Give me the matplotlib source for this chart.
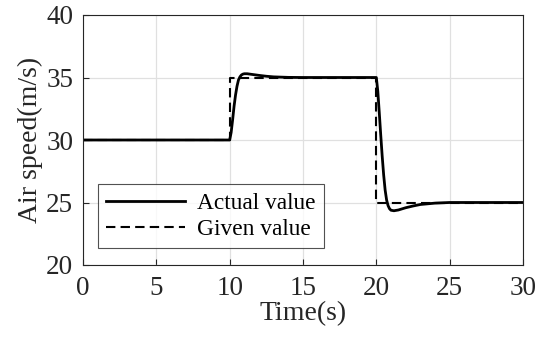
import matplotlib.pyplot as plt

# given (reference) air speed, step input
t_given = [0, 10, 10, 20, 20, 30]
v_given = [30, 30, 35, 35, 25, 25]

# actual response
t_act = [0, 10.0, 10.1, 10.2, 10.3, 10.4, 10.5, 10.6, 10.7, 10.8, 10.9, 11.0, 11.2,
         11.5, 12.0, 12.5, 13.0, 14.0, 15.0, 20.0, 20.1, 20.2, 20.3, 20.4, 20.5,
         20.6, 20.7, 20.8, 20.9, 21.0, 21.2, 21.5, 22.0, 22.5, 23.0, 24.0, 25.0, 30.0]
v_act = [30, 30.0, 30.6, 31.6, 32.7, 33.6, 34.3, 34.8, 35.05, 35.2, 35.27, 35.3, 35.3,
         35.25, 35.17, 35.1, 35.05, 35.01, 35.0, 35.0, 33.9, 32.2, 30.4, 28.7, 27.2,
         26.0, 25.2, 24.75, 24.5, 24.38, 24.34, 24.4, 24.58, 24.72, 24.84, 24.95, 25.0, 25.0]

plt.rcParams['font.family'] = ['Liberation Serif', 'DejaVu Serif']

fig = plt.figure(figsize=(5.51, 3.43), dpi=100)
ax = fig.add_axes([83 / 551, 1 - 265 / 343, 440 / 551, 250 / 343])

ax.plot(t_act, v_act, color='black', lw=2.0, label='Actual value')
ax.plot(t_given, v_given, color='black', lw=1.5, ls=(0, (4.5, 2.5)), label='Given value')

ax.set_xlim(0, 30)
ax.set_ylim(20, 40)
ax.set_xticks([0, 5, 10, 15, 20, 25, 30])
ax.set_yticks([20, 25, 30, 35, 40])
ax.grid(True, color='#e0e0e0', lw=0.9)
ax.set_axisbelow(True)
ax.tick_params(direction='in', labelsize=19.5, length=4, width=0.8, top=False, right=False,
               colors='#262626')
ax.tick_params(axis='y', pad=7)
ax.tick_params(axis='x', pad=8)
for s in ax.spines.values():
    s.set_color('#262626')
    s.set_linewidth(0.8)

ax.set_xlabel('Time(s)', fontsize=20, color='#262626', labelpad=0)
ax.set_ylabel('Air speed(m/s)', fontsize=20, color='#262626', labelpad=2)

leg = ax.legend(loc='lower left', bbox_to_anchor=(0.034, 0.068), fontsize=16.8,
                frameon=True, fancybox=False, handlelength=3.4, handletextpad=0.5,
                borderpad=0.35, labelspacing=0.2, borderaxespad=0)
leg.get_frame().set_edgecolor('#262626')
leg.get_frame().set_linewidth(0.8)

fig.savefig('out.png', dpi=100)
